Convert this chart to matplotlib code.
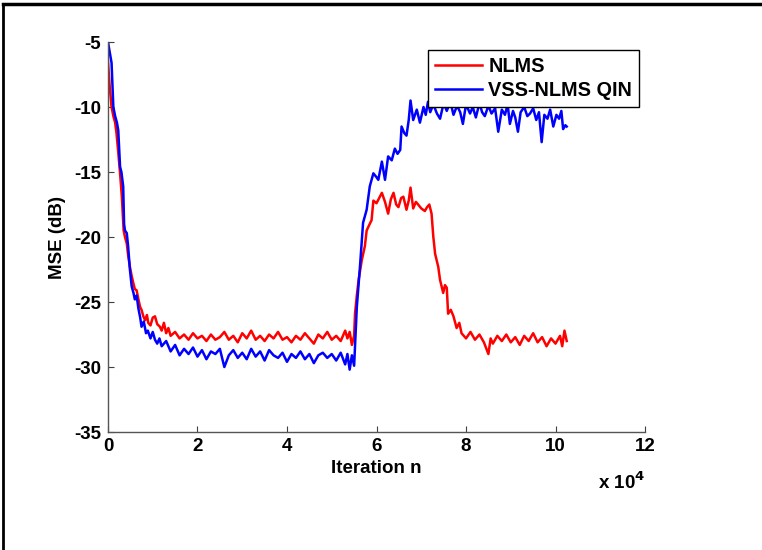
import matplotlib
matplotlib.use("Agg")
import matplotlib.pyplot as plt
from matplotlib.lines import Line2D

plt.rcParams['font.family'] = ['Liberation Sans', 'DejaVu Sans']
plt.rcParams['font.weight'] = 'bold'
plt.rcParams['axes.unicode_minus'] = False
plt.rcParams['mathtext.default'] = 'bf'

# iteration axis in units of 1e4
nlms_x = [0, 0.04, 0.08, 0.12, 0.16, 0.19, 0.23, 0.27, 0.31, 0.35, 0.38, 0.42, 0.45, 0.49,
          0.53, 0.57, 0.60, 0.64, 0.68, 0.72, 0.75, 0.79, 0.83, 0.87, 0.90, 0.95, 1.0, 1.05,
          1.1, 1.16, 1.2, 1.25, 1.3, 1.35, 1.4, 1.5, 1.6, 1.7, 1.8, 1.9, 2.0, 2.1, 2.2, 2.3,
          2.4, 2.5, 2.6, 2.7, 2.8, 2.9, 3.0, 3.1, 3.2, 3.3, 3.4, 3.5, 3.6, 3.7, 3.8, 3.9,
          4.0, 4.1, 4.2, 4.3, 4.4, 4.5, 4.6, 4.7, 4.8, 4.9, 5.0, 5.1, 5.2, 5.3, 5.35, 5.4,
          5.45, 5.5, 5.52, 5.56, 5.6, 5.67, 5.74, 5.78, 5.82, 5.89, 5.93, 6.0, 6.06, 6.12,
          6.19, 6.26, 6.32, 6.38, 6.44, 6.49, 6.55, 6.6, 6.67, 6.72, 6.76, 6.82, 6.88, 6.93,
          7.0, 7.08, 7.13, 7.18, 7.23, 7.27, 7.31, 7.38, 7.42, 7.49, 7.53, 7.57, 7.6, 7.66,
          7.72, 7.79, 7.85, 7.9, 8.0, 8.1, 8.2, 8.3, 8.4, 8.5, 8.55, 8.6, 8.7, 8.8, 8.9,
          9.0, 9.1, 9.2, 9.3, 9.4, 9.5, 9.6, 9.7, 9.8, 9.9, 10.0, 10.1, 10.15, 10.2, 10.25]
nlms_mse = [-6.5, -8.5, -10.0, -10.7, -11.2, -12.0, -13.5, -15.1, -16.9, -19.5, -20.0, -20.5,
            -21.4, -22.3, -23.0, -23.6, -24.0, -24.1, -24.8, -25.4, -25.6, -26.1, -26.4, -26.0,
            -26.6, -26.8, -26.2, -26.1, -26.7, -26.9, -27.2, -26.6, -27.4, -27.0, -27.6, -27.3,
            -27.8, -27.5, -27.9, -27.4, -27.8, -27.6, -28.0, -27.5, -27.9, -27.7, -27.3, -27.9,
            -27.6, -28.1, -27.4, -27.8, -27.2, -27.9, -27.6, -28.0, -27.5, -27.8, -27.3, -27.9,
            -27.7, -28.1, -27.6, -27.9, -27.4, -27.8, -28.2, -27.5, -27.8, -27.3, -27.9, -27.6,
            -28.0, -27.2, -27.8, -27.3, -28.3, -27.6, -25.9, -24.5, -23.3, -21.8, -20.7, -19.5,
            -19.2, -18.7, -17.2, -17.4, -17.0, -16.6, -17.3, -18.2, -17.1, -16.6, -17.5, -17.7,
            -17.0, -16.9, -17.9, -17.2, -16.2, -17.8, -17.3, -17.5, -17.8, -18.0, -17.7, -17.5,
            -18.2, -20.0, -21.3, -22.3, -23.3, -24.3, -23.7, -23.9, -25.9, -25.6, -26.1, -27.0,
            -26.6, -27.4, -27.8, -27.3, -27.9, -27.5, -28.1, -29.0, -27.8, -28.2, -27.6, -28.0,
            -27.5, -28.1, -27.7, -28.3, -27.6, -28.0, -27.4, -28.1, -27.7, -28.4, -27.8, -28.2,
            -27.6, -28.4, -27.2, -28.0]

vss_x = [0, 0.04, 0.08, 0.1, 0.12, 0.16, 0.2, 0.23, 0.27, 0.3, 0.34, 0.36, 0.38, 0.42, 0.45,
         0.49, 0.53, 0.57, 0.6, 0.64, 0.68, 0.72, 0.75, 0.8, 0.85, 0.89, 0.95, 1.0, 1.05, 1.1,
         1.15, 1.2, 1.3, 1.4, 1.5, 1.6, 1.7, 1.8, 1.9, 2.0, 2.1, 2.2, 2.3, 2.4, 2.5, 2.6, 2.7,
         2.8, 2.9, 3.0, 3.1, 3.2, 3.3, 3.4, 3.5, 3.6, 3.7, 3.8, 3.9, 4.0, 4.1, 4.2, 4.3, 4.4,
         4.5, 4.6, 4.7, 4.8, 4.9, 5.0, 5.1, 5.2, 5.3, 5.35, 5.4, 5.45, 5.5, 5.56, 5.63, 5.7,
         5.78, 5.85, 5.93, 6.0, 6.04, 6.12, 6.19, 6.26, 6.34, 6.41, 6.47, 6.53, 6.56, 6.62,
         6.67, 6.72, 6.76, 6.82, 6.9, 6.97, 7.05, 7.1, 7.15, 7.2, 7.27, 7.35, 7.42, 7.5, 7.57,
         7.65, 7.72, 7.8, 7.87, 7.93, 8.0, 8.09, 8.15, 8.22, 8.3, 8.36, 8.42, 8.5, 8.57, 8.65,
         8.72, 8.8, 8.87, 8.93, 8.98, 9.05, 9.1, 9.16, 9.22, 9.3, 9.37, 9.43, 9.5, 9.57, 9.63,
         9.69, 9.75, 9.82, 9.88, 9.95, 10.02, 10.08, 10.13, 10.17, 10.22, 10.25]
vss_mse = [-5.0, -5.8, -6.6, -8.3, -10.0, -10.7, -11.2, -11.8, -14.6, -15.0, -16.1, -19.0,
           -19.5, -19.7, -20.7, -22.5, -23.8, -24.3, -24.8, -24.5, -25.5, -26.2, -26.9, -26.5,
           -27.4, -27.2, -27.8, -27.3, -27.9, -28.2, -27.8, -28.4, -28.0, -28.8, -28.3, -29.1,
           -28.6, -29.0, -28.5, -29.2, -28.7, -29.4, -28.8, -29.0, -28.6, -30.0, -29.1, -28.7,
           -29.3, -28.9, -29.4, -28.6, -29.2, -28.8, -29.5, -28.7, -29.1, -29.3, -28.9, -29.6,
           -29.0, -29.3, -28.8, -29.4, -29.0, -29.7, -29.1, -28.9, -29.3, -29.0, -29.5, -28.9,
           -29.8, -29.0, -30.2, -29.1, -29.9, -25.4, -22.3, -18.9, -17.9, -16.1, -15.1, -15.4,
           -15.6, -14.2, -15.6, -13.8, -14.1, -13.2, -13.6, -13.3, -11.5, -12.0, -12.2, -11.0,
           -9.5, -11.0, -10.2, -11.2, -10.0, -10.6, -9.6, -10.4, -9.8, -10.5, -10.9, -9.7,
           -10.3, -9.6, -10.6, -9.9, -10.4, -11.3, -9.8, -10.5, -10.0, -10.8, -9.7, -10.4,
           -10.7, -9.9, -10.5, -10.1, -11.9, -10.2, -10.6, -9.8, -11.3, -10.3, -10.8, -11.9,
           -10.4, -10.0, -10.7, -10.5, -10.1, -11.0, -10.4, -12.7, -10.6, -10.9, -10.2, -11.5,
           -10.6, -10.9, -10.3, -11.7, -11.4, -11.5]

x_ticks = [0, 2, 4, 6, 8, 10, 12]
y_ticks = [-35, -30, -25, -20, -15, -10, -5]

fig = plt.figure(figsize=(7.62, 5.5), dpi=100)
ax = fig.add_axes([0.1417, 0.2145, 0.7048, 0.7091])

ax.plot(nlms_x, nlms_mse, color='#ff0000', lw=1.8, label='NLMS')
ax.plot(vss_x, vss_mse, color='#0000ff', lw=1.8, label='VSS-NLMS QIN')

ax.set_xlim(0, 12)
ax.set_ylim(-35, -5)
ax.set_xticks(x_ticks)
ax.set_yticks(y_ticks)
ax.tick_params(direction='in', length=4, width=0.8, labelsize=13.5, color='#404040')
ax.tick_params(axis='x', pad=4)
ax.tick_params(axis='y', pad=5)
for s in ['top', 'right']:
    ax.spines[s].set_visible(False)
for s in ['left', 'bottom']:
    ax.spines[s].set_color('#555555')
    ax.spines[s].set_linewidth(1.0)

ax.set_xlabel('Iteration n', fontsize=13.5, fontweight='bold', labelpad=4)
ax.set_ylabel('MSE (dB)', fontsize=13.5, fontweight='bold', labelpad=6)
ax.text(1.0, -0.1, r'x 10$^{4}$', transform=ax.transAxes, ha='right',
        va='top', fontsize=13.5, fontweight='bold')

leg = ax.legend(loc='upper right', bbox_to_anchor=(0.989, 0.979), borderaxespad=0,
                fancybox=False, framealpha=1, edgecolor='black', fontsize=14.3,
                handlelength=2.4, borderpad=0.35, labelspacing=0.25, handletextpad=0.3)
leg.get_frame().set_linewidth(1.0)
for t in leg.get_texts():
    t.set_fontweight('bold')

# outer frame (top and left edges only visible in reference)
fig.add_artist(Line2D([0.004, 1.0], [0.993, 0.993], color='black', lw=2.5,
                      transform=fig.transFigure))
fig.add_artist(Line2D([0.004, 0.004], [0.0, 0.993], color='black', lw=2.0,
                      transform=fig.transFigure))

fig.savefig('out.png', dpi=100)
